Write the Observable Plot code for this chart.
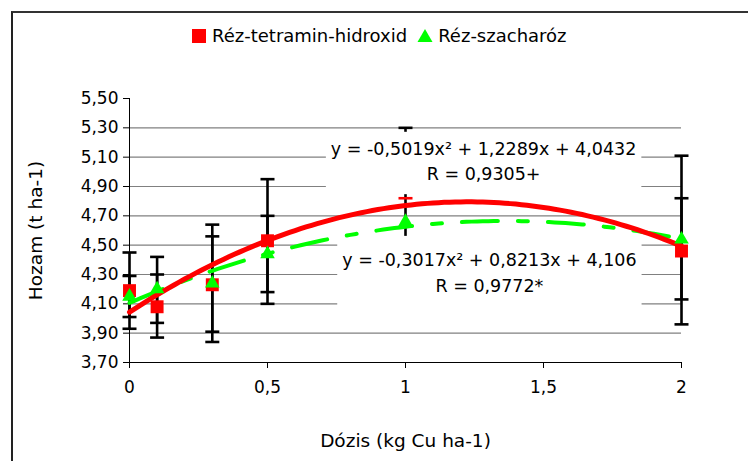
<!DOCTYPE html>
<html>
<head>
<meta charset="utf-8">
<script src="https://cdn.jsdelivr.net/npm/d3@7"></script>
<script src="https://cdn.jsdelivr.net/npm/@observablehq/plot@0.6"></script>
<style>
  html, body { margin: 0; padding: 0; background: #fff; }
  #wrap { position: relative; width: 748px; height: 461px; overflow: hidden; font-family: "DejaVu Sans", sans-serif; }
  #frame { position: absolute; left: 11px; top: 11px; width: 900px; height: 600px; border-top: 2px solid #333; border-left: 2px solid #222; }
  #legend { position: absolute; left: 192px; top: 25px; font-size: 18px; display: flex; align-items: center; white-space: nowrap; color: #000; }
  #legend .sq { width: 14px; height: 14px; background: #ff0000; margin-right: 6px; }
  #legend svg { margin: 0 5px 0 10px; }
  #chart { position: absolute; left: 0; top: 0; }
</style>
</head>
<body>
<div id="wrap">
  <div id="chart"></div>
  <div id="frame"></div>
  <div id="legend">
    <div class="sq"></div><span>Réz-tetramin-hidroxid</span>
    <svg width="16" height="15"><polygon points="8,1 15.5,14 0.5,14" fill="#00ff00"/></svg><span>Réz-szacharóz</span>
  </div>
</div>
<script>
// ---- data ----
const doses = [0, 0.1, 0.3, 0.5, 1, 2];
const seriesNames = ["Réz-tetramin-hidroxid", "Réz-szacharóz"];
const redYield   = [4.19, 4.08, 4.23, 4.53, null, 4.46];
const greenYield = [4.15, 4.20, 4.24, 4.44, 4.66, 4.54];
const redLow     = [3.93, 3.87, 3.84, 4.10, null, 4.13];
const redHigh    = [4.45, 4.30, 4.64, 4.95, 4.82, 4.82];
const greenLow   = [4.01, 3.97, 3.91, 4.18, 4.56, 3.96];
const greenHigh  = [4.29, 4.42, 4.56, 4.70, 5.30, 5.11];
// trendline coefficients (a x^2 + b x + c) as printed on the chart
const redCoef   = [-0.5019, 1.2289, 4.0432];
const greenCoef = [-0.3017, 0.8213, 4.106];
const eqLabels  = ["y = -0,5019x² + 1,2289x + 4,0432\nR = 0,9305+", "y = -0,3017x² + 0,8213x + 4,106\nR = 0,9772*"];
const eqX = [1.283, 1.304];
const eqY = [5.085, 4.325];
const xTicks = [0, 0.5, 1, 1.5, 2];
const yTicks = [3.7, 3.9, 4.1, 4.3, 4.5, 4.7, 4.9, 5.1, 5.3, 5.5];
const gridTicks = [3.9, 4.1, 4.3, 4.5, 4.7, 4.9, 5.1, 5.3];

// ---- tables ----
const fmt = d => String(d).replace(".", ",");
const fmt2 = d => d.toFixed(2).replace(".", ",");
const redPts = doses.map((x, i) => ({x, y: redYield[i]})).filter(d => d.y != null);
const greenPts = doses.map((x, i) => ({x, y: greenYield[i]}));
const errRows = [];
doses.forEach((x, i) => {
  if (redLow[i] != null) errRows.push({x, low: redLow[i], high: redHigh[i]});
  errRows.push({x, low: greenLow[i], high: greenHigh[i]});
});
const capsBlack = [];
const capsRed = [];
doses.forEach((x, i) => {
  if (redLow[i] != null) { capsBlack.push({x, y: redLow[i]}); capsBlack.push({x, y: redHigh[i]}); }
  else capsRed.push({x, y: redHigh[i]});
  if (x !== 1) capsBlack.push({x, y: greenLow[i]});
  capsBlack.push({x, y: greenHigh[i]});
});
const xs = d3.range(0, 2.0001, 0.02);
const curve = (c) => xs.map(x => ({x, y: c[0] * x * x + c[1] * x + c[2]}));
const eqRows = eqLabels.map((t, i) => ({x: eqX[i], y: eqY[i], t}));

const capSymbol = { draw(ctx, size) { const w = Math.sqrt(size / Math.PI); ctx.moveTo(-w, 0); ctx.lineTo(w, 0); } };

const plot = Plot.plot({
  width: 748,
  height: 461,
  marginLeft: 129,
  marginRight: 67,
  marginTop: 98,
  marginBottom: 99,
  style: { fontFamily: "DejaVu Sans, sans-serif", fontSize: "17px", color: "#000", background: "transparent" },
  x: { domain: [0, 2] },
  y: { domain: [3.7, 5.5] },
  marks: [
    Plot.gridY(gridTicks, { stroke: "#808080", strokeOpacity: 1, strokeWidth: 1.2 }),
    Plot.axisY({ ticks: yTicks, tickFormat: fmt2, tickSize: 6, tickPadding: 5, fontSize: 17, label: null }),
    Plot.axisX({ ticks: xTicks, tickFormat: fmt, tickSize: 6, tickPadding: 12, fontSize: 17, label: null }),
    Plot.axisY({ ticks: [], label: "Hozam (t ha-1)", labelAnchor: "center", labelArrow: "none", labelOffset: 101, fontSize: 18.5 }),
    Plot.axisX({ ticks: [], label: "Dózis (kg Cu ha-1)", labelAnchor: "center", labelArrow: "none", labelOffset: 84, fontSize: 18.5 }),
    Plot.ruleX([0], { y1: 3.7, y2: 5.5, stroke: "#000", strokeWidth: 1 }),
    Plot.ruleY([3.7], { stroke: "#000", strokeWidth: 1 }),
    Plot.ruleX(errRows, { x: "x", y1: "low", y2: "high", stroke: "#000", strokeWidth: 2.6 }),
    Plot.dot(capsBlack, { x: "x", y: "y", symbol: capSymbol, r: 7, stroke: "#000", strokeWidth: 2.6 }),
    Plot.dot(capsRed, { x: "x", y: "y", symbol: capSymbol, r: 7, stroke: "#ff0000", strokeWidth: 2.6 }),
    Plot.dot(redPts, { x: "x", y: "y", symbol: "square", r: 7.3, fill: "#ff0000", stroke: "none" }),
    Plot.line(curve(greenCoef), { x: "x", y: "y", stroke: "#00ff00", strokeWidth: 4, strokeDasharray: "36,20,10,20", curve: "linear" }),
    Plot.line(curve(redCoef), { x: "x", y: "y", stroke: "#ff0000", strokeWidth: 5, curve: "linear" }),
    Plot.dot(greenPts, { x: "x", y: "y", symbol: "triangle", r: 5.4, fill: "#00ff00", stroke: "none" }),
    Plot.text(eqRows, { x: "x", y: "y", text: "t", fontSize: 17.5, fill: "#000", lineHeight: 1.45, textAnchor: "middle" })
  ]
});
document.getElementById("chart").appendChild(plot);

// white boxes behind the trendline labels
d3.select(plot).selectAll('g[aria-label="text"] text').each(function () {
  const b = this.getBBox();
  const padX = 5, padTop = 7, padBottom = 10;
  d3.select(this.parentNode).insert("rect", () => this)
    .attr("x", b.x - padX).attr("y", b.y - padTop)
    .attr("width", b.width + 2 * padX).attr("height", b.height + padTop + padBottom)
    .attr("fill", "#fff")
    .attr("transform", this.getAttribute("transform"));
});
</script>
</body>
</html>
